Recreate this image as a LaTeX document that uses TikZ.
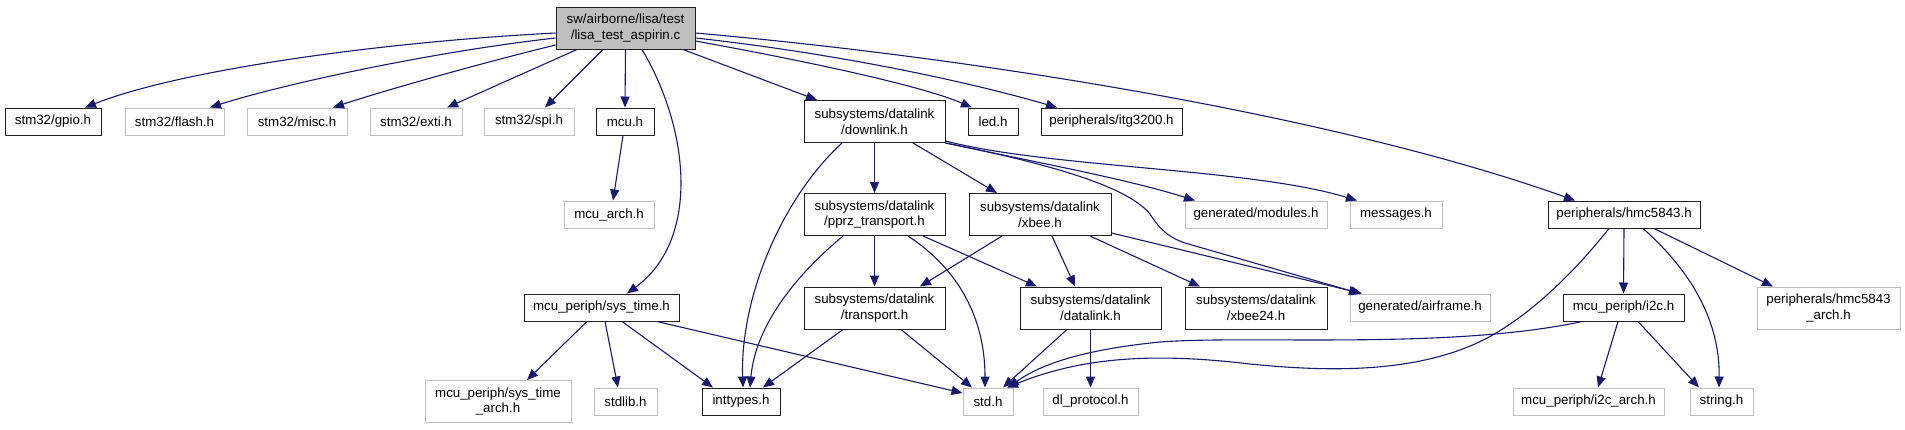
\documentclass[tikz,border=0pt]{standalone}
\usepackage{fontspec}
\setmainfont{Liberation Sans}
\usetikzlibrary{arrows.meta}
\definecolor{edgec}{HTML}{191970}
\definecolor{grayb}{HTML}{BFBFBF}
\definecolor{boxb}{HTML}{202020}
\begin{document}
\begin{tikzpicture}[x=1pt,y=-1pt,
  every node/.style={font=\fontsize{13.3}{15.6}\selectfont},
  box/.style={draw=boxb, line width=1pt, inner sep=0pt, align=center, minimum height=27},
  gbox/.style={box, draw=grayb},
  tall/.style={minimum height=42},
  edge/.style={draw=edgec, line width=1.1pt, -{Triangle[length=11pt,width=9pt]}}]
\useasboundingbox (0,0) rectangle (1905,429);
% nodes
\node[box, tall, fill=grayb, minimum width=139] (main) at (625.5,28) {sw/airborne/lisa/test\\/lisa\_test\_aspirin.c};
\node[box, minimum width=96] (gpio) at (53,121.5) {stm32/gpio.h};
\node[gbox, minimum width=99] (flash) at (174.5,121.5) {stm32/flash.h};
\node[gbox, minimum width=100] (misc) at (297,121.5) {stm32/misc.h};
\node[gbox, minimum width=92] (exti) at (416,121.5) {stm32/exti.h};
\node[gbox, minimum width=90] (spi) at (529,121.5) {stm32/spi.h};
\node[box, minimum width=58] (mcu) at (625,121.5) {mcu.h};
\node[box, tall, minimum width=141] (downlink) at (874.5,121.5) {subsystems/datalink\\/downlink.h};
\node[box, minimum width=50] (led) at (993,121.5) {led.h};
\node[box, minimum width=141] (itg) at (1111.5,121.5) {peripherals/itg3200.h};
\node[gbox, minimum width=90] (mcuarch) at (609,214.5) {mcu\_arch.h};
\node[box, tall, minimum width=141] (pprz) at (874.5,214.5) {subsystems/datalink\\/pprz\_transport.h};
\node[box, tall, minimum width=142] (xbee) at (1040,214.5) {subsystems/datalink\\/xbee.h};
\node[gbox, minimum width=142] (modules) at (1256,214.5) {generated/modules.h};
\node[gbox, minimum width=92] (messages) at (1396,214.5) {messages.h};
\node[box, minimum width=152] (hmc) at (1624,214.5) {peripherals/hmc5843.h};
\node[box, minimum width=155] (systime) at (601.5,307.5) {mcu\_periph/sys\_time.h};
\node[box, tall, minimum width=141] (transport) at (874.5,308) {subsystems/datalink\\/transport.h};
\node[box, tall, minimum width=141] (datalink) at (1090.5,308) {subsystems/datalink\\/datalink.h};
\node[box, tall, minimum width=142] (xbeetf) at (1256,308) {subsystems/datalink\\/xbee24.h};
\node[gbox, minimum width=140] (airframe) at (1420,307.5) {generated/airframe.h};
\node[box, minimum width=121] (itwoc) at (1623.5,307.5) {mcu\_periph/i2c.h};
\node[gbox, tall, minimum width=143] (hmcarch) at (1828.5,308) {peripherals/hmc5843\\\_arch.h};
\node[gbox, tall, minimum width=146] (systimearch) at (498,401.5) {mcu\_periph/sys\_time\\\_arch.h};
\node[gbox, minimum width=63] (stdlib) at (625.5,401.5) {stdlib.h};
\node[box, minimum width=78] (inttypes) at (741,401.5) {inttypes.h};
\node[gbox, minimum width=50] (std) at (988,401.5) {std.h};
\node[gbox, minimum width=95] (dlproto) at (1090.5,401.5) {dl\_protocol.h};
\node[gbox, minimum width=151] (itwocarch) at (1588.5,401.5) {mcu\_periph/i2c\_arch.h};
\node[gbox, minimum width=63] (string) at (1721.5,401.5) {string.h};
% edges from main
\draw[edge] (main.west |- 0,33) .. controls (380,42) and (180,70) .. (85,0 |- gpio.north);
\draw[edge] (main.west |- 0,38) .. controls (430,52) and (280,85) .. (210,0 |- flash.north);
\draw[edge] (main.west |- 0,45) .. controls (470,66) and (380,92) .. (333,0 |- misc.north);
\draw[edge] (577,0 |- main.south) -- (447,0 |- exti.north);
\draw[edge] (603,0 |- main.south) -- (545,0 |- spi.north);
\draw[edge] (main.south) -- (mcu.north);
\draw[edge] (642,0 |- main.south) .. controls (690,130) and (700,240) .. (627,0 |- systime.north);
\draw[edge] (683,0 |- main.south) -- (817,0 |- downlink.north);
\draw[edge] (main.east |- 0,33) .. controls (1000,60) and (1350,120) .. (1575,0 |- hmc.north);
\draw[edge] (main.east |- 0,38) .. controls (850,55) and (980,85) .. (1057,0 |- itg.north);
\draw[edge] (main.east |- 0,41) .. controls (800,60) and (920,85) .. (972,0 |- led.north);
% mcu
\draw[edge] (623,0 |- mcu.south) -- (613,0 |- mcuarch.north);
% downlink
\draw[edge] (842,0 |- downlink.south) .. controls (780,200) and (740,300) .. (743,0 |- inttypes.north);
\draw[edge] (downlink.south) -- (pprz.north);
\draw[edge] (913,0 |- downlink.south) -- (997,0 |- xbee.north);
\draw[edge] (downlink.south east) .. controls (1050,165) and (1130,180) .. (1195,0 |- modules.north);
\draw[edge] (downlink.east |- 0,141) .. controls (1050,168) and (1250,168) .. (1357,0 |- messages.north);
\draw[edge] (downlink.south east) .. controls (1070,168) and (1130,190) .. (1150,214) .. controls (1160,230) and (1170,238) .. (1185,243) -- (1360,0 |- airframe.north);
% pprz
\draw[edge] (843,0 |- pprz.south) .. controls (790,280) and (755,330) .. (750,0 |- inttypes.north);
\draw[edge] (pprz.south) -- (transport.north);
\draw[edge] (908,0 |- pprz.south) .. controls (960,270) and (985,320) .. (985,0 |- std.north);
\draw[edge] (923,0 |- pprz.south) -- (1037,0 |- datalink.north);
% xbee
\draw[edge] (1002,0 |- xbee.south) -- (920,0 |- transport.north);
\draw[edge] (1052,0 |- xbee.south) -- (1075,0 |- datalink.north);
\draw[edge] (1090,0 |- xbee.south) -- (1200,0 |- xbeetf.north);
\draw[edge] (xbee.east |- 0,233) -- (1362,0 |- airframe.north);
% transport
\draw[edge] (843,0 |- transport.south) -- (763,0 |- inttypes.north);
\draw[edge] (901,0 |- transport.south) -- (972,0 |- std.north);
% datalink
\draw[edge] (1067,0 |- datalink.south) -- (1003,0 |- std.north);
\draw[edge] (datalink.south) -- (dlproto.north);
% sys_time
\draw[edge] (587,0 |- systime.south) -- (527,0 |- systimearch.north);
\draw[edge] (605,0 |- systime.south) -- (618,0 |- stdlib.north);
\draw[edge] (622,0 |- systime.south) -- (713,0 |- inttypes.north);
\draw[edge] (657,0 |- systime.south) -- (std.west |- 0,393);
% hmc5843
\draw[edge] (hmc.south) -- (itwoc.north);
\draw[edge] (1609,0 |- hmc.south) .. controls (1560,290) and (1520,318) .. (1501,330) .. controls (1430,375) and (1330,372) .. (1250,364) .. controls (1150,352) and (1080,358) .. (1007,0 |- std.north);
\draw[edge] (1643,0 |- hmc.south) .. controls (1690,270) and (1720,320) .. (1719,0 |- string.north);
\draw[edge] (1654,0 |- hmc.south) -- (1773,0 |- hmcarch.north);
% i2c
\draw[edge] (1582,0 |- itwoc.south) .. controls (1450,350) and (1250,335) .. (1160,342) .. controls (1080,350) and (1040,365) .. (1008,0 |- std.north);
\draw[edge] (1618,0 |- itwoc.south) -- (1598,0 |- itwocarch.north);
\draw[edge] (1638,0 |- itwoc.south) -- (1699,0 |- string.north);
\end{tikzpicture}
\end{document}
